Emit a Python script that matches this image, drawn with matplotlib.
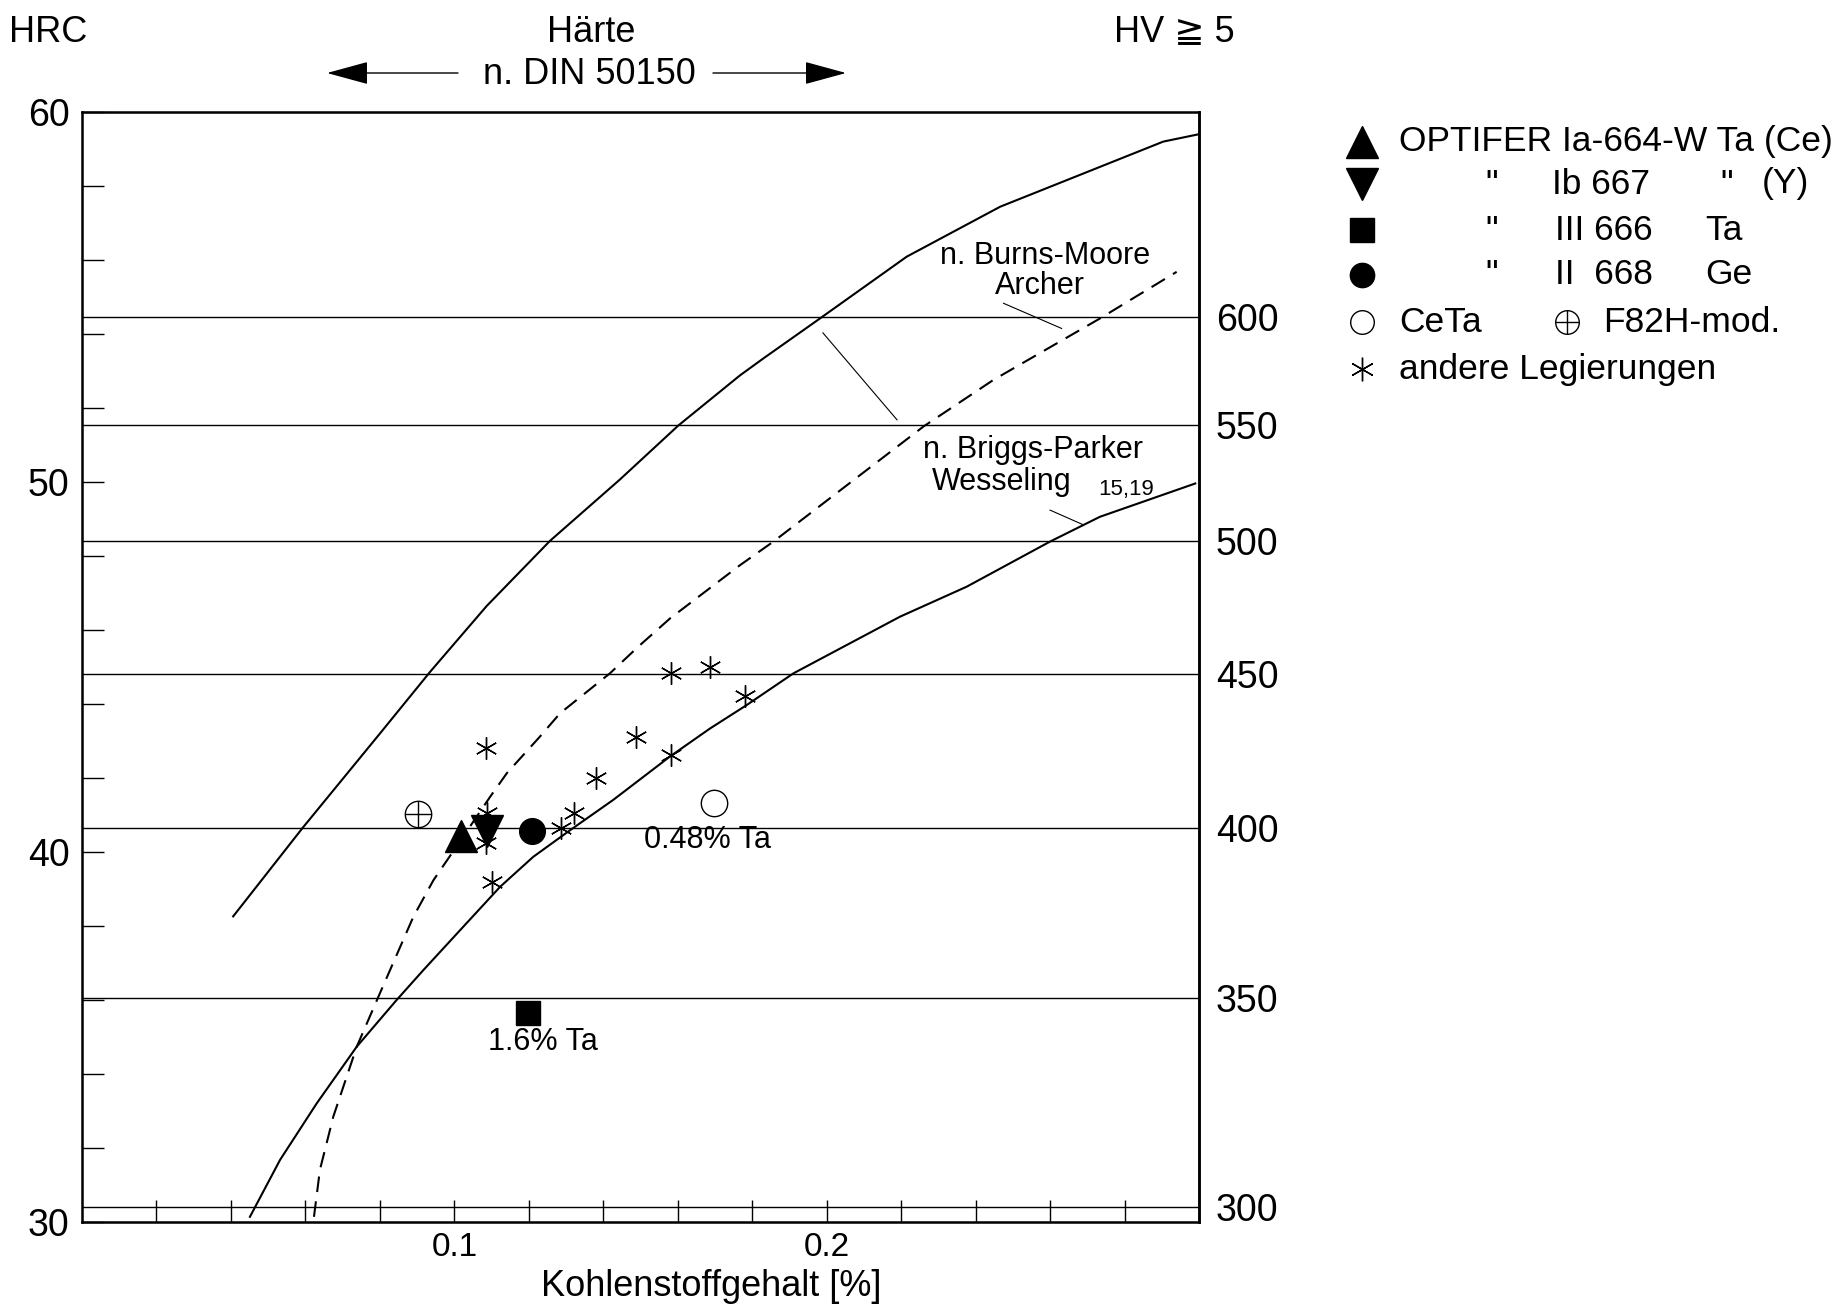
import matplotlib.pyplot as plt
import numpy as np

plt.rcParams['font.family'] = ['Liberation Sans', 'DejaVu Sans']

# -------------------------
# data
# -------------------------

# x = Kohlenstoffgehalt [%], y = HRC
upper_c = [0.0406, 0.0594, 0.0800, 0.0935, 0.1087, 0.1257, 0.1445, 0.1602, 0.1767,
           0.183, 0.1982, 0.2215, 0.2466, 0.2690, 0.2904, 0.300]
upper_hrc = [38.26, 40.67, 43.2, 44.87, 46.65, 48.41, 50.07, 51.53, 52.88,
             53.34, 54.42, 56.09, 57.44, 58.34, 59.2, 59.4]

dashed_c = [0.0623, 0.0639, 0.0675, 0.0738, 0.0800, 0.0890, 0.0944, 0.0993,
            0.1096, 0.1141, 0.1230, 0.1284, 0.1418, 0.1494, 0.1579, 0.1767,
            0.1857, 0.2260, 0.2448, 0.2734, 0.2940]
dashed_hrc = [30.14, 31.41, 32.85, 34.74, 36.18, 38.25, 39.24, 39.96,
              41.49, 42.13, 43.12, 43.75, 44.83, 45.55, 46.31, 47.75,
              48.39, 51.5, 52.76, 54.42, 55.68]

lower_c = [0.0451, 0.0532, 0.0630, 0.0738, 0.0845, 0.0917, 0.1024, 0.1123,
           0.1212, 0.1311, 0.1427, 0.1579, 0.1687, 0.1785, 0.1911, 0.2197,
           0.2376, 0.2600, 0.2734, 0.2990]
lower_hrc = [30.14, 31.68, 33.2, 34.74, 36.0, 36.81, 37.98, 39.06,
             39.87, 40.59, 41.41, 42.58, 43.34, 43.97, 44.83, 46.36,
             47.17, 48.39, 49.06, 49.96]

# HV scale (right side) and where its lines sit on the HRC scale
hv_labels = [300, 350, 400, 450, 500, 550, 600]
hv_hrc = [30.41, 36.05, 40.66, 44.82, 48.41, 51.53, 54.45]

# measured alloys (C %, HRC)
ia664_c, ia664_hrc = [0.1018], [40.44]
ib667_c, ib667_hrc = [0.1087], [40.57]
iii666_c, iii666_hrc = [0.1198], [35.64]
ii668_c, ii668_hrc = [0.1208], [40.56]
ceta_c, ceta_hrc = [0.1698], [41.33]
f82h_c, f82h_hrc = [0.0902], [41.02]

other_c = [0.1085, 0.1087, 0.1085, 0.1100, 0.1286, 0.1322, 0.1381, 0.1487,
           0.1581, 0.1581, 0.1687, 0.1781]
other_hrc = [42.82, 41.05, 40.24, 39.2, 40.64, 41.06, 41.99, 43.1,
             42.62, 44.83, 45.01, 44.22]

x_ticks = np.round(np.arange(0.02, 0.30, 0.02), 2)
y_ticks = np.arange(30, 61, 2)

# -------------------------
# figure
# -------------------------
W, H = 1843, 1312
fig = plt.figure(figsize=(W / 100, H / 100), dpi=100)
fig.patch.set_facecolor('white')

ax = fig.add_axes([82 / W, 1 - 1222 / H, 1117 / W, 1110 / H])
ax.set_xlim(0, 0.3)
ax.set_ylim(30, 60)

for s in ax.spines.values():
    s.set_linewidth(1.8)

ax.hlines(hv_hrc, 0, 0.3, colors='black', lw=1.0, zorder=1)

ax.plot(upper_c, upper_hrc, color='black', lw=1.5, zorder=2)
ax.plot(lower_c, lower_hrc, color='black', lw=1.5, zorder=2)
ax.plot(dashed_c, dashed_hrc, color='black', lw=1.5, ls=(0, (7.5, 4.5)), zorder=2)

# markers
ax.plot(other_c, other_hrc, ls='none', marker=(6, 2, 0), ms=16, mec='black', mew=1.0, zorder=3)
ax.plot(f82h_c, f82h_hrc, ls='none', marker='o', ms=19, mfc='white', mec='black', mew=1.0, zorder=3)
ax.plot(f82h_c, f82h_hrc, ls='none', marker='+', ms=19, mec='black', mew=1.0, zorder=3)
ax.plot(ia664_c, ia664_hrc, ls='none', marker='^', ms=23, color='black', zorder=4)
ax.plot(ib667_c, ib667_hrc, ls='none', marker='v', ms=23, color='black', zorder=4)
ax.plot(ii668_c, ii668_hrc, ls='none', marker='o', ms=18.5, color='black', zorder=4)
ax.plot(iii666_c, iii666_hrc, ls='none', marker='s', ms=17, color='black', zorder=4)
ax.plot(ceta_c, ceta_hrc, ls='none', marker='o', ms=19, mfc='white', mec='black', mew=1.0, zorder=4)

# annotations
afs = 22
ax.text(0.1681, 40.32, '0.48% Ta', fontsize=afs, ha='center', va='center')
ax.text(0.1238, 34.86, '1.6% Ta', fontsize=afs, ha='center', va='center')
ax.text(0.2587, 56.12, 'n. Burns-Moore', fontsize=afs, ha='center', va='center')
ax.text(0.2573, 55.30, 'Archer', fontsize=afs, ha='center', va='center')
ax.text(0.2554, 50.86, 'n. Briggs-Parker', fontsize=afs, ha='center', va='center')
ax.text(0.2471, 50.0, 'Wesseling', fontsize=afs, ha='center', va='center')
ax.text(0.2805, 49.80, '15,19', fontsize=16, ha='center', va='center')
ax.plot([0.2475, 0.2631], [54.83, 54.15], color='black', lw=0.8)
ax.plot([0.1990, 0.2189], [54.03, 51.68], color='black', lw=0.8)
ax.plot([0.2600, 0.2690], [49.24, 48.84], color='black', lw=0.8)

# ticks
ax.set_xticks(x_ticks)
ax.set_xticklabels([f'{t:.1f}' if t in (0.1, 0.2) else '' for t in x_ticks])
ax.set_yticks(y_ticks)
ax.set_yticklabels([str(t) if t % 10 == 0 else '' for t in y_ticks])
ax.tick_params(axis='both', direction='in', length=16, width=1.0)
ax.tick_params(axis='x', pad=7, labelsize=24)
ax.tick_params(axis='y', pad=9, labelsize=27)

ax2 = ax.twinx()
ax2.set_ylim(30, 60)
ax2.set_yticks(hv_hrc)
ax2.set_yticklabels([str(v) for v in hv_labels])
ax2.tick_params(axis='y', length=0, pad=12, labelsize=27)
ax2.spines['right'].set_linewidth(1.8)

# -------------------------
# header and legend, in pixel coords
# -------------------------
ov = fig.add_axes([0, 0, 1, 1])
ov.set_xlim(0, W)
ov.set_ylim(H, 0)
ov.axis('off')
ov.patch.set_alpha(0)

hfs = 26
ov.text(9, 32, 'HRC', fontsize=hfs, ha='left', va='center')
ov.text(591, 32, 'Härte', fontsize=hfs, ha='center', va='center')
ov.text(589, 75, 'n. DIN 50150', fontsize=hfs, ha='center', va='center')
ov.text(1114, 32, 'HV ≧ 5', fontsize=hfs, ha='left', va='center')
arrow = dict(arrowstyle='-|>,head_length=1.1,head_width=0.3', lw=1.0, color='black',
             mutation_scale=24, shrinkA=0, shrinkB=0)
ov.annotate('', xy=(327, 73), xytext=(458, 73), arrowprops=arrow)
ov.annotate('', xy=(846, 73), xytext=(713, 73), arrowprops=arrow)

ov.text(711, 1287, 'Kohlenstoffgehalt [%]', fontsize=hfs, ha='center', va='center')

# legend
mx, tx = 1362, 1399
rows = [142, 184, 230, 275, 322, 369]
lfs = 25.5
ov.plot([mx], [rows[0]], marker='^', ms=23, color='black')
ov.text(tx, rows[0], 'OPTIFER Ia-664-W Ta (Ce)', fontsize=lfs, va='center')
ov.plot([mx], [rows[1]], marker='v', ms=23, color='black')
ov.text(1485, rows[1], '"', fontsize=lfs, va='center')
ov.text(1552, rows[1], 'Ib 667', fontsize=lfs, va='center')
ov.text(1720, rows[1], '"', fontsize=lfs, va='center')
ov.text(1762, rows[1], '(Y)', fontsize=lfs, va='center')
ov.plot([mx], [rows[2]], marker='s', ms=17, color='black')
ov.text(1485, rows[2], '"', fontsize=lfs, va='center')
ov.text(1555, rows[2], 'III 666', fontsize=lfs, va='center')
ov.text(1705, rows[2], 'Ta', fontsize=lfs, va='center')
ov.plot([mx], [rows[3]], marker='o', ms=17.5, color='black')
ov.text(1485, rows[3], '"', fontsize=lfs, va='center')
ov.text(1555, rows[3], 'II  668', fontsize=lfs, va='center')
ov.text(1705, rows[3], 'Ge', fontsize=lfs, va='center')
ov.plot([mx], [rows[4]], marker='o', ms=17, mfc='white', mec='black', mew=1.0)
ov.text(tx, rows[4], 'CeTa', fontsize=lfs, va='center')
ov.plot([1567], [rows[4]], marker='o', ms=17, mfc='white', mec='black', mew=1.0)
ov.plot([1567], [rows[4]], marker='+', ms=17, mec='black', mew=1.0)
ov.text(1603, rows[4], 'F82H-mod.', fontsize=lfs, va='center')
ov.plot([mx], [rows[5]], marker=(6, 2, 0), ms=17, mec='black', mew=1.0)
ov.text(tx, rows[5], 'andere Legierungen', fontsize=lfs, va='center')

fig.savefig('out.png', dpi=100, facecolor='white')
